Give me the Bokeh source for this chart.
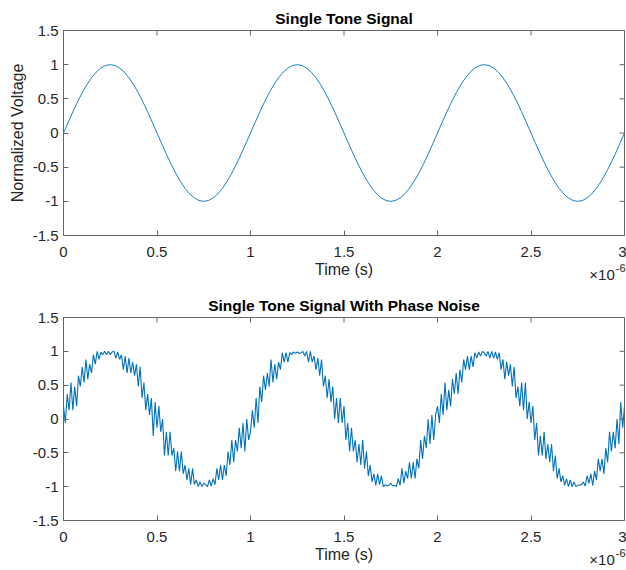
import math
from bokeh.plotting import figure
from bokeh.layouts import column
from bokeh.models import LinearAxis, FixedTicker, Range1d, Title
from bokeh.embed import file_html
from bokeh.resources import INLINE

# ---- data (time in units of 1e-6 s) ----
clean_step_us = 0.025
clean_v = [
    0.0, 0.156, 0.309, 0.454, 0.588, 0.707, 0.809, 0.891, 0.951, 0.988,
    1.0, 0.988, 0.951, 0.891, 0.809, 0.707, 0.588, 0.454, 0.309, 0.156,
    0.0, -0.156, -0.309, -0.454, -0.588, -0.707, -0.809, -0.891, -0.951, -0.988,
    -1.0, -0.988, -0.951, -0.891, -0.809, -0.707, -0.588, -0.454, -0.309, -0.156,
    0.0, 0.156, 0.309, 0.454, 0.588, 0.707, 0.809, 0.891, 0.951, 0.988,
    1.0, 0.988, 0.951, 0.891, 0.809, 0.707, 0.588, 0.454, 0.309, 0.156,
    0.0, -0.156, -0.309, -0.454, -0.588, -0.707, -0.809, -0.891, -0.951, -0.988,
    -1.0, -0.988, -0.951, -0.891, -0.809, -0.707, -0.588, -0.454, -0.309, -0.156,
    0.0, 0.156, 0.309, 0.454, 0.588, 0.707, 0.809, 0.891, 0.951, 0.988,
    1.0, 0.988, 0.951, 0.891, 0.809, 0.707, 0.588, 0.454, 0.309, 0.156,
    0.0, -0.156, -0.309, -0.454, -0.588, -0.707, -0.809, -0.891, -0.951, -0.988,
    -1.0, -0.988, -0.951, -0.891, -0.809, -0.707, -0.588, -0.454, -0.309, -0.156,
    0.0,
]

noisy_step_us = 0.01
noisy_v = [
    # 0 .. 0.99 us
    0.19, -0.06, 0.37, 0.13, 0.54, 0.13, 0.48, 0.19, 0.64, 0.48,
    0.77, 0.54, 0.88, 0.59, 0.81, 0.68, 0.95, 0.81, 1.00, 0.88,
    0.99, 0.95, 1.00, 0.95, 1.00, 0.95, 0.99, 1.00, 0.90, 0.99,
    0.88, 0.95, 0.73, 0.93, 0.68, 0.90, 0.68, 0.84, 0.64, 0.81,
    0.48, 0.77, 0.31, 0.54, 0.13, 0.37, 0.06, 0.31, -0.25, 0.25,
    -0.13, 0.19, -0.19, 0.00, -0.54, -0.19, -0.54, -0.19, -0.54, -0.43,
    -0.77, -0.48, -0.77, -0.48, -0.81, -0.68, -0.90, -0.73, -0.97, -0.73,
    -0.97, -0.90, -1.00, -0.93, -1.00, -0.95, -0.97, -1.00, -0.90, -0.99,
    -0.88, -0.97, -0.73, -0.90, -0.68, -0.90, -0.68, -0.84, -0.48, -0.68,
    -0.31, -0.64, -0.31, -0.48, -0.13, -0.43, -0.06, -0.48, 0.00, -0.31,
    # 1.00 .. 1.99 us
    -0.19, 0.13, -0.13, 0.31, -0.06, 0.48, 0.25, 0.64, 0.43, 0.68,
    0.48, 0.88, 0.54, 0.81, 0.59, 0.84, 0.73, 0.98, 0.84, 0.98,
    0.84, 0.98, 0.95, 0.99, 0.97, 0.99, 0.97, 0.98, 1.00, 0.93,
    1.00, 0.84, 1.00, 0.84, 0.93, 0.73, 0.90, 0.64, 0.88, 0.48,
    0.64, 0.31, 0.59, 0.25, 0.48, 0.00, 0.31, -0.06, 0.31, -0.06,
    0.19, -0.31, -0.06, -0.48, -0.13, -0.48, -0.31, -0.64, -0.37, -0.68,
    -0.31, -0.73, -0.48, -0.84, -0.68, -0.93, -0.81, -0.98, -0.81, -0.97,
    -0.84, -1.00, -0.97, -0.99, -0.98, -0.95, -0.99, -0.98, -1.00, -0.88,
    -0.98, -0.73, -0.95, -0.77, -0.88, -0.64, -0.88, -0.64, -0.88, -0.59,
    -0.73, -0.31, -0.59, -0.25, -0.43, 0.00, -0.37, 0.06, -0.31, 0.06,
    # 2.00 .. 3.00 us
    0.19, -0.06, 0.37, 0.06, 0.54, 0.13, 0.43, 0.19, 0.59, 0.37,
    0.68, 0.37, 0.73, 0.54, 0.88, 0.73, 0.93, 0.73, 0.93, 0.77,
    0.98, 0.90, 0.99, 0.93, 1.00, 0.98, 0.93, 1.00, 0.90, 1.00,
    0.90, 0.99, 0.88, 0.98, 0.73, 0.88, 0.59, 0.84, 0.64, 0.81,
    0.48, 0.77, 0.31, 0.48, 0.19, 0.54, 0.13, 0.54, 0.00, 0.25,
    -0.06, 0.19, -0.31, -0.06, -0.54, -0.25, -0.54, -0.19, -0.59, -0.37,
    -0.64, -0.37, -0.77, -0.54, -0.88, -0.73, -0.93, -0.84, -0.98, -0.88,
    -1.00, -0.90, -1.00, -0.93, -1.00, -0.98, -0.98, -0.97, -0.93, -0.99,
    -0.84, -0.95, -0.81, -0.98, -0.77, -0.90, -0.59, -0.77, -0.59, -0.81,
    -0.43, -0.64, -0.19, -0.48, -0.19, -0.43, 0.00, -0.37, 0.25, -0.13,
    0.19,
]

x_ticks = [0, 0.5, 1, 1.5, 2, 2.5, 3]
x_tick_labels = ["0", "0.5", "1", "1.5", "2", "2.5", "3"]
y_ticks = [-1.5, -1, -0.5, 0, 0.5, 1, 1.5]
y_tick_labels = ["-1.5", "-1", "-0.5", "0", "0.5", "1", "1.5"]

titles = ["Single Tone Signal", "Single Tone Signal With Phase Noise"]
x_label = "Time (s)"
y_label = "Normalized Voltage"
exp_base = "\u00d710"   # x10
exp_power = "-6"
x_range = (0, 3)
y_range = (-1.5, 1.5)
x_label_pos = 1.5       # centre of the x axis, where the x label sits
exp_base_pos = 2.88     # where the x10 note sits along the x axis
exp_power_pos = 2.98    # where its -6 superscript sits

t_clean = [i * clean_step_us for i in range(len(clean_v))]
t_noisy = [i * noisy_step_us for i in range(len(noisy_v))]

FONT = "Liberation Sans"
AX = "#666666"
TXT = "#262626"
BLUE = "#0072BD"


def note_axis(pos, text, size, standoff):
    return LinearAxis(ticker=FixedTicker(ticks=[pos]),
                      major_label_overrides={pos: text},
                      major_tick_in=0, major_tick_out=0, minor_tick_in=0,
                      minor_tick_out=0, axis_line_color=None,
                      major_tick_line_color=None, major_label_standoff=standoff,
                      major_label_text_font=FONT, major_label_text_font_size=size,
                      major_label_text_color=TXT)


def make_fig(title, ylab, top_border):
    p = figure(width=626, height=285, output_backend="svg", toolbar_location=None,
               x_range=Range1d(*x_range), y_range=Range1d(*y_range),
               min_border_left=63, min_border_right=2, min_border_top=top_border,
               min_border_bottom=49, background_fill_color="white",
               border_fill_color="white")
    p.title = Title(text=title, align="center", text_font=FONT, text_font_size="15.5px",
                    text_font_style="bold", text_color="#000000", standoff=7)
    p.grid.visible = False
    p.outline_line_color = AX
    p.outline_line_width = 1
    p.xaxis.ticker = FixedTicker(ticks=x_ticks)
    p.yaxis.ticker = FixedTicker(ticks=y_ticks)
    p.xaxis.major_label_overrides = dict(zip(x_ticks, x_tick_labels))
    p.yaxis.major_label_overrides = dict(zip(y_ticks, y_tick_labels))
    for ax in (p.xaxis[0], p.yaxis[0]):
        ax.major_tick_in = 5
        ax.major_tick_out = 0
        ax.minor_tick_in = 0
        ax.minor_tick_out = 0
        ax.axis_line_color = AX
        ax.major_tick_line_color = AX
        ax.major_label_text_font = FONT
        ax.major_label_text_font_size = "15px"
        ax.major_label_text_color = TXT
        ax.axis_label_text_font = FONT
        ax.axis_label_text_font_size = "16px"
        ax.axis_label_text_font_style = "normal"
        ax.axis_label_text_color = TXT
    p.xaxis.major_label_standoff = 11
    p.yaxis.major_label_standoff = 5
    if ylab:
        p.yaxis.axis_label = ylab
        p.yaxis.axis_label_standoff = 4
    # rows under the x axis: the x label, then the x10^-6 exponent note
    p.add_layout(note_axis(x_label_pos, x_label, "16px", 1), "below")
    p.add_layout(note_axis(exp_base_pos, exp_base, "15px", -15), "below")
    p.add_layout(note_axis(exp_power_pos, exp_power, "11px", -22), "below")
    # inward box ticks on top and right edges, at the axis tick positions
    p.scatter(x_ticks, [y_range[1]] * len(x_ticks), marker="dash", angle=math.pi / 2,
              size=10, line_color=AX, line_width=1)
    p.scatter([x_range[1]] * len(y_ticks), y_ticks, marker="dash", size=10,
              line_color=AX, line_width=1)
    return p


p1 = make_fig(titles[0], y_label, 30)
p1.line(t_clean, clean_v, line_color=BLUE, line_width=0.9)

p2 = make_fig(titles[1], None, 32)
p2.line(t_noisy, noisy_v, line_color=BLUE, line_width=1.1)

layout = column(p1, p2, spacing=0)
open("out.html", "w").write(file_html(layout, INLINE))
